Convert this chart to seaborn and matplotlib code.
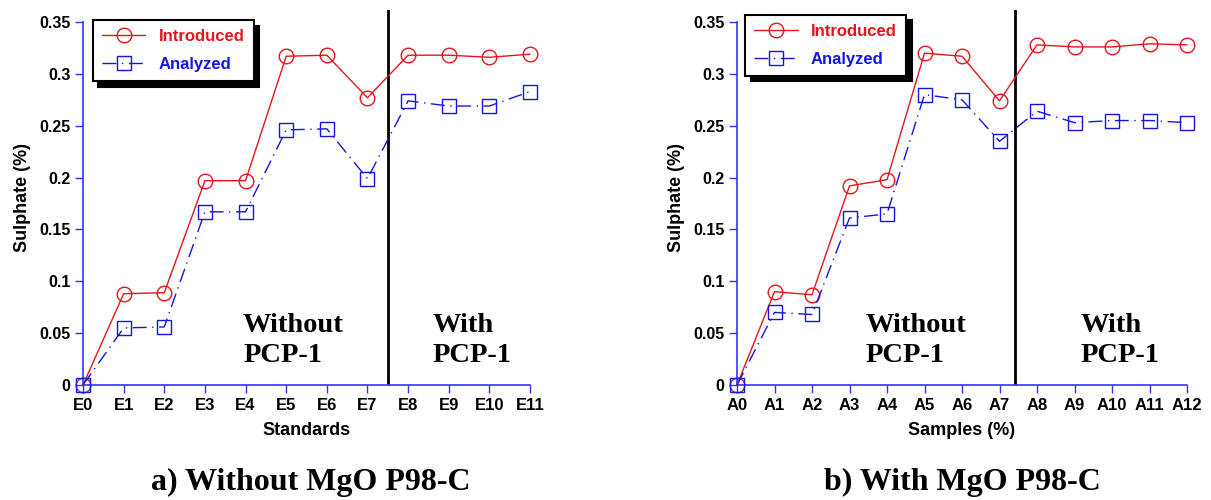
import numpy as np
import pandas as pd
import matplotlib.pyplot as plt
import seaborn as sns

# valeurs
std_labels = ["E0", "E1", "E2", "E3", "E4", "E5", "E6", "E7", "E8", "E9", "E10", "E11"]
std_introduced = [0, 0.088, 0.089, 0.197, 0.197, 0.317, 0.318, 0.277, 0.318, 0.318, 0.316, 0.319]
std_analyzed = [0, 0.055, 0.056, 0.167, 0.167, 0.246, 0.247, 0.199, 0.274, 0.269, 0.269, 0.283]

smp_labels = ["A0", "A1", "A2", "A3", "A4", "A5", "A6", "A7", "A8", "A9", "A10", "A11", "A12"]
smp_introduced = [0, 0.090, 0.087, 0.192, 0.198, 0.320, 0.317, 0.274, 0.328, 0.326, 0.326, 0.329, 0.328]
smp_analyzed = [0, 0.070, 0.068, 0.161, 0.165, 0.280, 0.275, 0.235, 0.264, 0.253, 0.255, 0.255, 0.253]

y_ticks = [0, 0.05, 0.1, 0.15, 0.2, 0.25, 0.3, 0.35]
y_ticklabels = ["0", "0.05", "0.1", "0.15", "0.2", "0.25", "0.3", "0.35"]

RED = "#e8141c"
BLUE = "#1414e6"
AXBLUE = "#3333ff"

sns.set_style("white")
plt.rcParams['font.family'] = ['Liberation Sans', 'DejaVu Sans']
plt.rcParams['text.color'] = 'black'
plt.rcParams['axes.labelcolor'] = 'black'
plt.rcParams['xtick.labelcolor'] = 'black'
plt.rcParams['ytick.labelcolor'] = 'black'

fig = plt.figure(figsize=(12.11, 5.0), dpi=100)
ax1 = fig.add_axes([83 / 1211, 1 - 385 / 500, 447 / 1211, 375 / 500])
ax2 = fig.add_axes([737 / 1211, 1 - 385 / 500, 450 / 1211, 375 / 500])


def draw_panel(ax, labels, introduced, analyzed, xlabel, split, caption, cap_x,
               leg_anchor, txt_without, txt_with):
    x = np.arange(len(labels))
    df = pd.DataFrame({"x": x, "Introduced": introduced, "Analyzed": analyzed})
    sns.lineplot(data=df, x="x", y="Introduced", ax=ax, color=RED, lw=1.0,
                 marker="o", markersize=10.5, mfc="none", mec=RED, mew=1.0,
                 label="Introduced", clip_on=False, zorder=3)
    sns.lineplot(data=df, x="x", y="Analyzed", ax=ax, color=BLUE, lw=1.0,
                 linestyle=(0, (10, 4, 1, 4)), marker="s", markersize=9.5,
                 mfc="none", mec=BLUE, mew=1.0,
                 label="Analyzed", clip_on=False, zorder=3)

    ax.axvline(split, color="black", lw=2.0, zorder=2)

    ax.set_xlim(0, len(labels) - 1)
    ax.set_ylim(0, 0.3616)
    ax.set_xticks(x)
    ax.set_xticklabels(labels, fontsize=12, fontweight="bold")
    ax.set_yticks(y_ticks)
    ax.set_yticklabels(y_ticklabels, fontsize=11.5, fontweight="bold")
    ax.set_xlabel(xlabel, fontsize=13, fontweight="bold", labelpad=7)
    ax.set_ylabel("Sulphate (%)", fontsize=13, fontweight="bold", labelpad=6)

    for s in ["top", "right"]:
        ax.spines[s].set_visible(False)
    for s in ["left", "bottom"]:
        ax.spines[s].set_color(AXBLUE)
        ax.spines[s].set_linewidth(1.2)
    ax.spines["left"].set_bounds(0, 0.35)
    ax.tick_params(axis="both", direction="out", length=6, width=1.0, color=AXBLUE,
                   pad=3, left=True, bottom=True)

    leg = ax.legend(loc="upper left", bbox_to_anchor=leg_anchor, fancybox=False,
                    shadow={"color": "black", "alpha": 1.0, "ox": 4, "oy": -4},
                    edgecolor="black", framealpha=1.0, borderpad=0.55,
                    handlelength=2.6, prop={"weight": "bold", "size": 12},
                    labelspacing=0.75, borderaxespad=0)
    leg.get_frame().set_linewidth(1.5)
    for t, c in zip(leg.get_texts(), [RED, BLUE]):
        t.set_color(c)

    serif = {"family": ["Liberation Serif", "DejaVu Serif"], "weight": "bold",
             "size": 20.5, "color": "black"}
    ax.text(txt_without, 0.069, "Without\nPCP-1", fontdict=serif, ha="left", va="top",
            linespacing=1.22)
    ax.text(txt_with, 0.069, "With\nPCP-1", fontdict=serif, ha="left", va="top",
            linespacing=1.22)

    ax.text(cap_x, -0.259, caption, transform=ax.transAxes, ha="center", va="center",
            family=["Liberation Serif", "DejaVu Serif"], fontweight="bold", fontsize=23,
            color="black")


draw_panel(ax1, std_labels, std_introduced, std_analyzed, "Standards", 7.5,
           "a) Without MgO P98-C", 0.51, (0.022, 0.973), 3.94, 8.61)
draw_panel(ax2, smp_labels, smp_introduced, smp_analyzed, "Samples (%)", 7.4,
           "b) With MgO P98-C", 0.5, (0.018, 0.987), 3.44, 9.17)

plt.savefig("out.png", dpi=100)
